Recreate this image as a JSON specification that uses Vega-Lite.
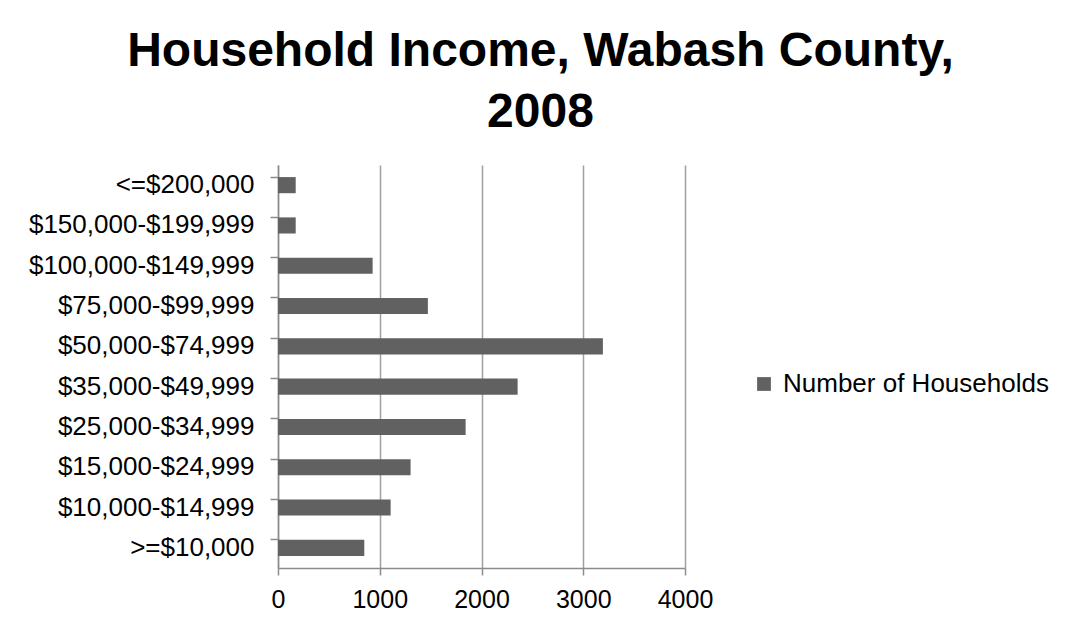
{
  "$schema": "https://vega.github.io/schema/vega-lite/v6.json",
  "autosize": "none",
  "width": 407,
  "height": 403,
  "padding": {"left": 278, "top": 165, "right": 380, "bottom": 63},
  "background": "white",
  "title": {
    "text": ["Household Income, Wabash County,", "2008"],
    "font": "Liberation Sans",
    "fontSize": 48,
    "fontWeight": "bold",
    "color": "black",
    "anchor": "middle",
    "frame": "group",
    "dx": 59,
    "offset": 28,
    "lineHeight": 61
  },
  "data": {
    "values": [
      {"income": "<=$200,000", "households": 174, "series": "Number of Households"},
      {"income": "$150,000-$199,999", "households": 174, "series": "Number of Households"},
      {"income": "$100,000-$149,999", "households": 930, "series": "Number of Households"},
      {"income": "$75,000-$99,999", "households": 1473, "series": "Number of Households"},
      {"income": "$50,000-$74,999", "households": 3193, "series": "Number of Households"},
      {"income": "$35,000-$49,999", "households": 2355, "series": "Number of Households"},
      {"income": "$25,000-$34,999", "households": 1844, "series": "Number of Households"},
      {"income": "$15,000-$24,999", "households": 1303, "series": "Number of Households"},
      {"income": "$10,000-$14,999", "households": 1107, "series": "Number of Households"},
      {"income": ">=$10,000", "households": 848, "series": "Number of Households"}
    ]
  },
  "mark": {"type": "bar", "stroke": null},
  "encoding": {
    "y": {
      "field": "income",
      "type": "nominal",
      "sort": null,
      "title": null,
      "scale": {"paddingInner": 0.6, "paddingOuter": 0.3},
      "axis": {
        "bandPosition": 0,
        "domainColor": "#8c8c8c",
        "domainWidth": 1.5,
        "tickColor": "#8c8c8c",
        "tickWidth": 1.5,
        "tickSize": 8,
        "labelFont": "Liberation Sans",
        "labelFontSize": 26,
        "labelColor": "black",
        "labelPadding": 16,
        "labelLimit": 400,
        "grid": false
      }
    },
    "x": {
      "field": "households",
      "type": "quantitative",
      "title": null,
      "scale": {"domain": [0, 4000], "nice": false},
      "axis": {
        "values": [0, 1000, 2000, 3000, 4000],
        "format": "d",
        "domainColor": "#8c8c8c",
        "domainWidth": 1.5,
        "tickColor": "#8c8c8c",
        "tickWidth": 1.5,
        "tickSize": 7,
        "labelFont": "Liberation Sans",
        "labelFontSize": 25,
        "labelColor": "black",
        "labelPadding": 12,
        "labelFlush": false,
        "grid": true,
        "gridColor": "#a0a0a0",
        "gridWidth": 1.5
      }
    },
    "color": {
      "field": "series",
      "type": "nominal",
      "scale": {"range": ["#616161"]},
      "legend": {
        "title": null,
        "orient": "none",
        "legendX": 473,
        "legendY": 206,
        "symbolType": "square",
        "symbolSize": 190,
        "symbolStrokeWidth": 0,
        "labelFont": "Liberation Sans",
        "labelFontSize": 26,
        "labelColor": "black",
        "labelOffset": 6,
        "labelLimit": 400
      }
    }
  },
  "config": {
    "view": {"stroke": null}
  }
}
